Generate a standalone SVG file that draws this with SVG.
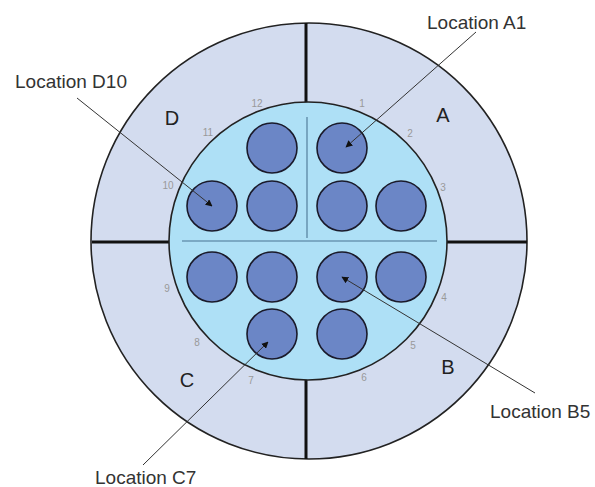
<svg xmlns="http://www.w3.org/2000/svg" width="595" height="487" viewBox="0 0 595 487">
  <style>
    .label { font-family: "Liberation Sans", Arial, sans-serif; font-size: 19px; fill: #333; }
    .quad { font-family: "Liberation Sans", Arial, sans-serif; font-size: 20px; fill: #222; text-anchor: middle; }
    .num { font-family: "Liberation Sans", Arial, sans-serif; font-size: 10px; fill: #999; text-anchor: middle; }
    .pin { fill: #6b86c6; stroke: #1a1a2a; stroke-width: 1.6; }
    .divider { stroke: #111; stroke-width: 3; }
    .guide { stroke: #6a97b3; stroke-width: 1.6; }
    .pointer { stroke: #333; stroke-width: 1; fill: none; marker-end: url(#arrow); }
  </style>
  <defs>
    <marker id="arrow" viewBox="0 0 10 10" refX="9" refY="5" markerWidth="7" markerHeight="7" markerUnits="userSpaceOnUse" orient="auto">
      <path d="M0,0 L10,5 L0,10 z" fill="#111"/>
    </marker>
  </defs>
  <rect width="595" height="487" fill="#fff"/>

  <!-- connector body -->
  <g id="shell">
    <circle cx="309" cy="241" r="218" fill="#d3dcef" stroke="#222" stroke-width="1.6"/>
    <line class="divider" x1="92" y1="242" x2="169" y2="242"/>
    <line class="divider" x1="447" y1="242" x2="527" y2="242"/>
    <line class="divider" x1="306" y1="23" x2="306" y2="103"/>
    <line class="divider" x1="306" y1="379" x2="306" y2="459"/>
  </g>
  <g id="insert">
    <circle cx="308" cy="241" r="139" fill="#aee0f6" stroke="#222" stroke-width="1.6"/>
    <line class="guide" x1="307" y1="117" x2="307" y2="238"/>
    <line class="guide" x1="182" y1="241" x2="437" y2="241"/>
  </g>

  <!-- quadrant letters -->
  <g id="quadrants">
    <text class="quad" x="172" y="125">D</text>
    <text class="quad" x="443" y="122">A</text>
    <text class="quad" x="187" y="387">C</text>
    <text class="quad" x="448" y="374">B</text>
  </g>

  <!-- clock positions -->
  <g id="positions">
    <text class="num" x="257" y="107">12</text>
    <text class="num" x="362" y="107">1</text>
    <text class="num" x="410" y="137">2</text>
    <text class="num" x="443" y="191">3</text>
    <text class="num" x="444" y="301">4</text>
    <text class="num" x="413" y="349">5</text>
    <text class="num" x="364" y="381">6</text>
    <text class="num" x="251" y="384">7</text>
    <text class="num" x="197" y="346">8</text>
    <text class="num" x="167" y="292">9</text>
    <text class="num" x="168" y="189">10</text>
    <text class="num" x="208" y="136">11</text>
  </g>

  <!-- contact cavities -->
  <g id="pin-d12"><circle class="pin" cx="272" cy="148" r="25"/></g>
  <g id="pin-a1"><circle class="pin" cx="342" cy="148" r="25"/></g>
  <g id="pin-d10"><circle class="pin" cx="212" cy="206" r="25"/></g>
  <g id="pin-d11"><circle class="pin" cx="272" cy="206" r="25"/></g>
  <g id="pin-a2"><circle class="pin" cx="342" cy="206" r="25"/></g>
  <g id="pin-a3"><circle class="pin" cx="401" cy="206" r="25"/></g>
  <g id="pin-c9"><circle class="pin" cx="212" cy="277" r="25"/></g>
  <g id="pin-c8"><circle class="pin" cx="272" cy="277" r="25"/></g>
  <g id="pin-b5"><circle class="pin" cx="342" cy="277" r="25"/></g>
  <g id="pin-b4"><circle class="pin" cx="401" cy="277" r="25"/></g>
  <g id="pin-c7"><circle class="pin" cx="272" cy="334" r="25"/></g>
  <g id="pin-b6"><circle class="pin" cx="342" cy="334" r="25"/></g>

  <!-- callout labels -->
  <g id="labels">
    <text class="label" x="427" y="29">Location A1</text>
    <text class="label" x="15" y="88">Location D10</text>
    <text class="label" x="490" y="418">Location B5</text>
    <text class="label" x="95" y="484">Location C7</text>
  </g>

  <!-- callout pointers -->
  <g id="connectors">
    <line class="pointer" x1="476" y1="32" x2="346" y2="147"/>
    <line class="pointer" x1="77" y1="98" x2="212" y2="206"/>
    <line class="pointer" x1="535" y1="393" x2="342" y2="277"/>
    <line class="pointer" x1="143" y1="465" x2="268" y2="342"/>
  </g>
</svg>
